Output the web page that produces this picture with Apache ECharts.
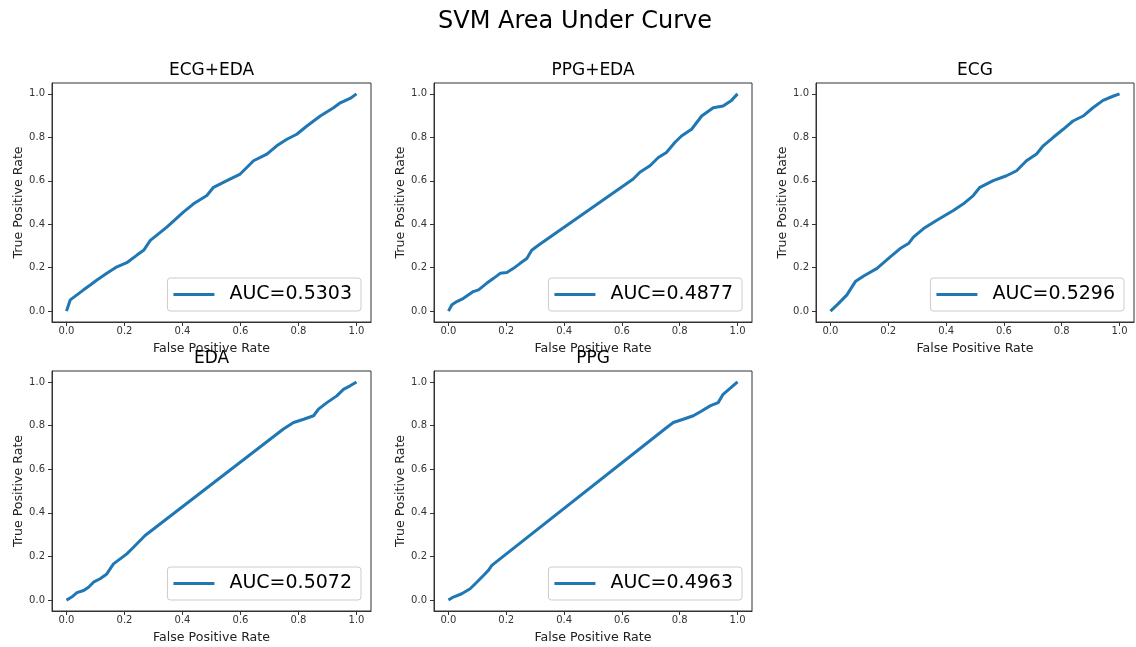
<!DOCTYPE html>
<html>
<head>
<meta charset="UTF-8">
<title>SVM Area Under Curve</title>
<script src="https://cdn.jsdelivr.net/npm/echarts@6/dist/echarts.min.js"></script>
<style>
  html, body { margin: 0; padding: 0; background: #fff; }
  #main { width: 1136px; height: 647px; }
</style>
</head>
<body>
<div id="main"></div>
<script>
// ROC data, one pair of arrays per subplot
var titles = ['ECG+EDA', 'PPG+EDA', 'ECG', 'EDA', 'PPG'];
var aucLabels = ['AUC=0.5303', 'AUC=0.4877', 'AUC=0.5296', 'AUC=0.5072', 'AUC=0.4963'];
var tickValues = [0, 0.2, 0.4, 0.6, 0.8, 1.0];

var fprEcgEda = [0, 0.013, 0.036, 0.059, 0.082, 0.105, 0.139, 0.174, 0.208, 0.243, 0.266, 0.289, 0.346, 0.403, 0.438, 0.484, 0.507, 0.553, 0.599, 0.645, 0.691, 0.725, 0.760, 0.794, 0.829, 0.875, 0.921, 0.944, 0.978, 1];
var tprEcgEda = [0, 0.052, 0.075, 0.098, 0.12, 0.143, 0.174, 0.204, 0.223, 0.258, 0.28, 0.326, 0.387, 0.456, 0.494, 0.532, 0.570, 0.601, 0.631, 0.692, 0.723, 0.761, 0.791, 0.814, 0.852, 0.898, 0.936, 0.959, 0.979, 1];

var fprPpgEda = [0, 0.012, 0.029, 0.052, 0.086, 0.104, 0.132, 0.156, 0.179, 0.202, 0.225, 0.248, 0.271, 0.288, 0.311, 0.639, 0.662, 0.697, 0.726, 0.754, 0.783, 0.806, 0.841, 0.876, 0.916, 0.950, 0.979, 1];
var tprPpgEda = [0, 0.029, 0.044, 0.059, 0.09, 0.098, 0.128, 0.151, 0.174, 0.178, 0.197, 0.22, 0.242, 0.28, 0.303, 0.608, 0.639, 0.669, 0.707, 0.730, 0.776, 0.806, 0.837, 0.898, 0.936, 0.944, 0.970, 1];

var fprEcg = [0, 0.023, 0.057, 0.086, 0.115, 0.161, 0.207, 0.241, 0.270, 0.287, 0.322, 0.368, 0.425, 0.460, 0.494, 0.517, 0.563, 0.609, 0.644, 0.678, 0.713, 0.736, 0.770, 0.805, 0.839, 0.874, 0.908, 0.943, 0.977, 1];
var tprEcg = [0, 0.029, 0.075, 0.136, 0.162, 0.197, 0.25, 0.288, 0.311, 0.341, 0.380, 0.418, 0.463, 0.494, 0.532, 0.570, 0.601, 0.623, 0.646, 0.692, 0.723, 0.761, 0.799, 0.837, 0.875, 0.898, 0.936, 0.970, 0.989, 1];

var fprEda = [0, 0.018, 0.036, 0.059, 0.076, 0.093, 0.116, 0.139, 0.162, 0.185, 0.208, 0.231, 0.254, 0.271, 0.748, 0.783, 0.818, 0.852, 0.869, 0.898, 0.932, 0.955, 0.978, 1];
var tprEda = [0, 0.014, 0.034, 0.044, 0.059, 0.082, 0.098, 0.120, 0.166, 0.189, 0.212, 0.242, 0.273, 0.296, 0.784, 0.814, 0.829, 0.845, 0.875, 0.905, 0.936, 0.966, 0.982, 1];

var fprPpg = [0, 0.017, 0.046, 0.075, 0.098, 0.121, 0.138, 0.150, 0.755, 0.778, 0.812, 0.847, 0.876, 0.905, 0.933, 0.950, 0.974, 1];
var tprPpg = [0, 0.014, 0.029, 0.052, 0.082, 0.113, 0.136, 0.159, 0.791, 0.814, 0.829, 0.845, 0.867, 0.890, 0.905, 0.943, 0.970, 1];

var fprList = [fprEcgEda, fprPpgEda, fprEcg, fprEda, fprPpg];
var tprList = [tprEcgEda, tprPpgEda, tprEcg, tprEda, tprPpg];

// subplot boxes in pixels
var boxes = [
  { left: 52, top: 83, width: 319, height: 239 },
  { left: 434, top: 83, width: 318, height: 239 },
  { left: 816, top: 83, width: 318, height: 239 },
  { left: 52, top: 371, width: 319, height: 240 },
  { left: 434, top: 371, width: 318, height: 240 }
];

var font = 'DejaVu Sans';
var blue = '#1f77b4';

var grids = [], xAxes = [], yAxes = [], series = [], legends = [];
var titleList = [{
  text: 'SVM Area Under Curve',
  left: 575, top: 10, textAlign: 'center', padding: 0,
  textStyle: { fontFamily: font, fontSize: 24, fontWeight: 'normal', color: '#000' }
}];

for (var i = 0; i < titles.length; i++) {
  var b = boxes[i];
  grids.push({
    left: b.left, top: b.top, width: b.width, height: b.height,
    show: true, borderColor: '#333', borderWidth: 1, backgroundColor: '#fff'
  });
  var axisCommon = {
    gridIndex: i, type: 'value', min: -0.05, max: 1.05,
    nameLocation: 'middle',
    nameTextStyle: { fontFamily: font, fontSize: 12.6, color: '#222' },
    axisLine: { show: true, onZero: false, lineStyle: { color: '#333', width: 1 } },
    splitLine: { show: false },
    axisTick: { show: true, length: 4, lineStyle: { color: '#333' }, customValues: tickValues },
    axisLabel: {
      fontFamily: font, fontSize: 10, color: '#333',
      customValues: tickValues,
      formatter: function (v) { return v.toFixed(1); }
    }
  };
  xAxes.push(Object.assign({}, axisCommon, {
    name: 'False Positive Rate', nameGap: 20,
    axisLabel: Object.assign({}, axisCommon.axisLabel, { margin: 4 })
  }));
  yAxes.push(Object.assign({}, axisCommon, {
    name: 'True Positive Rate', nameGap: 27,
    axisLabel: Object.assign({}, axisCommon.axisLabel, { margin: 7 })
  }));

  var pts = [];
  for (var k = 0; k < fprList[i].length; k++) {
    pts.push([fprList[i][k], tprList[i][k]]);
  }
  series.push({
    name: aucLabels[i], type: 'line',
    xAxisIndex: i, yAxisIndex: i,
    data: pts, showSymbol: false, symbol: 'none',
    lineStyle: { color: blue, width: 3 },
    itemStyle: { color: blue },
    animation: false
  });

  titleList.push({
    text: titles[i],
    left: b.left + b.width / 2, top: b.top - 21, textAlign: 'center', padding: 0,
    textStyle: { fontFamily: font, fontSize: 17, fontWeight: 'normal', color: '#000' }
  });

  legends.push({
    data: [aucLabels[i]],
    right: 1136 - (b.left + b.width) + 10,
    top: b.top + b.height - 44,
    orient: 'horizontal',
    icon: 'rect', itemWidth: 41, itemHeight: 3,
    padding: [7, 9, 7, 6],
    borderColor: '#ccc', borderWidth: 1, borderRadius: 3,
    backgroundColor: 'rgba(255,255,255,0.8)',
    selectedMode: false,
    textStyle: { fontFamily: font, fontSize: 19, color: '#000', padding: [0, 0, 0, 10] }
  });
}

var myChart = echarts.init(document.getElementById('main'));
myChart.setOption({
  animation: false,
  backgroundColor: '#fff',
  title: titleList,
  grid: grids,
  xAxis: xAxes,
  yAxis: yAxes,
  legend: legends,
  series: series
});
</script>
</body>
</html>
